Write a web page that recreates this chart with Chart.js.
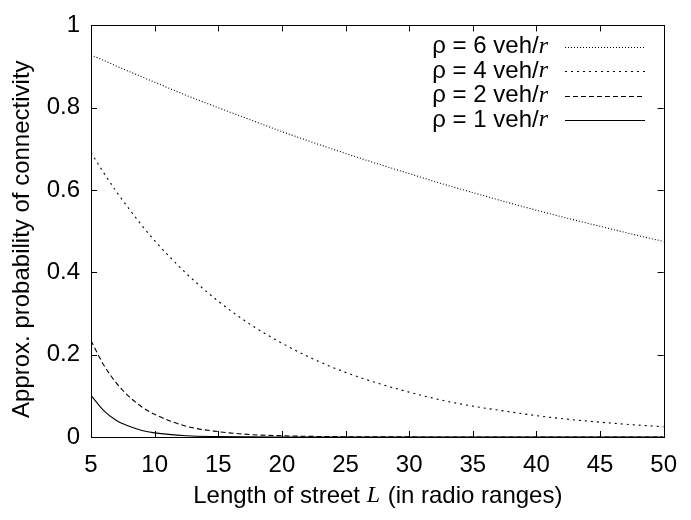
<!DOCTYPE html>
<html>
<head>
<meta charset="utf-8">
<script src="https://cdn.jsdelivr.net/npm/chart.js@4/dist/chart.umd.min.js"></script>
<style>
  body { margin: 0; background: #fff; }
  #wrap { width: 691px; height: 520px; }
</style>
</head>
<body>
<div id="wrap"><canvas id="myChart"></canvas></div>
<script>
// street length L (radio ranges)
var lengths = [5, 6, 7, 8, 9, 10, 12.5, 15, 17.5, 20, 22.5, 25, 27.5, 30, 32.5, 35, 37.5, 40, 42.5, 45, 47.5, 50];

// approx. probability of connectivity
var rho6 = [0.928, 0.915, 0.901, 0.888, 0.875, 0.862, 0.830, 0.800, 0.771, 0.742, 0.715, 0.689, 0.664, 0.640, 0.616, 0.594, 0.572, 0.551, 0.531, 0.512, 0.493, 0.475];
var rho4 = [0.691, 0.642, 0.596, 0.554, 0.514, 0.477, 0.397, 0.330, 0.274, 0.228, 0.189, 0.157, 0.131, 0.109, 0.090, 0.075, 0.063, 0.052, 0.043, 0.036, 0.030, 0.025];
var rho2 = [0.234, 0.175, 0.131, 0.098, 0.073, 0.055, 0.026, 0.013, 0.006, 0.003, 0.0014, 0.0007, 0.0003, 0.0002, 0.0001, 0, 0, 0, 0, 0, 0, 0];
var rho1 = [0.101, 0.064, 0.040, 0.026, 0.016, 0.010, 0.003, 0.001, 0.0003, 0.0001, 0, 0, 0, 0, 0, 0, 0, 0, 0, 0, 0, 0];

var seriesNames = ['6', '4', '2', '1'];
var xTicks = [5, 10, 15, 20, 25, 30, 35, 40, 45, 50];
var yTicks = [0, 0.2, 0.4, 0.6, 0.8, 1];

var SANS = '"Liberation Sans", Arial, sans-serif';
var SERIF = '"Liberation Serif", "Times New Roman", serif';
var FS = 24;

function pts(vals) {
  return lengths.map(function(l, i) { return {x: l, y: vals[i]}; });
}

function mkSet(name, vals, dash) {
  return {
    label: name,
    data: pts(vals),
    borderColor: '#000',
    borderWidth: 1.1,
    borderDash: dash,
    pointRadius: 0,
    fill: false,
    cubicInterpolationMode: 'monotone'
  };
}

// frame, inward ticks, axis titles and the gnuplot style key
var decor = {
  id: 'decor',
  afterDraw: function(chart) {
    var ctx = chart.ctx;
    var a = chart.chartArea;
    var xs = chart.scales.x, ys = chart.scales.y;
    ctx.save();
    ctx.strokeStyle = '#000';
    ctx.lineWidth = 1;
    ctx.setLineDash([]);
    ctx.strokeRect(Math.round(a.left) + 0.5, Math.round(a.top) + 0.5,
      Math.round(a.right - a.left), Math.round(a.bottom - a.top));
    var tl = 6;
    ctx.beginPath();
    xTicks.forEach(function(v) {
      var px = Math.round(xs.getPixelForValue(v)) + 0.5;
      ctx.moveTo(px, a.bottom); ctx.lineTo(px, a.bottom - tl);
      ctx.moveTo(px, a.top); ctx.lineTo(px, a.top + tl);
    });
    yTicks.forEach(function(v) {
      var py = Math.round(ys.getPixelForValue(v)) + 0.5;
      ctx.moveTo(a.left, py); ctx.lineTo(a.left + tl, py);
      ctx.moveTo(a.right, py); ctx.lineTo(a.right - tl, py);
    });
    ctx.stroke();

    ctx.fillStyle = '#000';
    ctx.textBaseline = 'middle';

    // x title with italic L
    var p1 = 'Length of street ', p2 = 'L', p3 = ' (in radio ranges)';
    ctx.font = FS + 'px ' + SANS;
    var w1 = ctx.measureText(p1).width, w3 = ctx.measureText(p3).width;
    ctx.font = 'italic ' + FS + 'px ' + SERIF;
    var w2 = ctx.measureText(p2).width;
    var cx = (a.left + a.right) / 2;
    var x0 = cx - (w1 + w2 + w3) / 2;
    var ty = 496;
    ctx.textAlign = 'left';
    ctx.font = FS + 'px ' + SANS;
    ctx.fillText(p1, x0, ty);
    ctx.font = 'italic ' + FS + 'px ' + SERIF;
    ctx.fillText(p2, x0 + w1, ty);
    ctx.font = FS + 'px ' + SANS;
    ctx.fillText(p3, x0 + w1 + w2 + 1, ty);

    // y title
    ctx.save();
    ctx.translate(22, (a.top + a.bottom) / 2 + 8);
    ctx.rotate(-Math.PI / 2);
    ctx.textAlign = 'center';
    ctx.font = FS + 'px ' + SANS;
    ctx.fillText('Approx. probability of connectivity', 0, 0);
    ctx.restore();

    // key
    var rowY = [46.5, 71, 95.5, 120];
    var textRight = 548, lineL = 565, lineR = 645;
    chart.data.datasets.forEach(function(ds, i) {
      var y = rowY[i];
      var s1 = '\u03c1 = ' + ds.label + ' veh/';
      ctx.font = 'italic ' + FS + 'px ' + SERIF;
      var wr = ctx.measureText('r').width;
      ctx.font = FS + 'px ' + SANS;
      var ws = ctx.measureText(s1).width;
      ctx.textAlign = 'left';
      ctx.fillText(s1, textRight - wr - ws, y);
      ctx.font = 'italic ' + FS + 'px ' + SERIF;
      ctx.fillText('r', textRight - wr, y);
      ctx.beginPath();
      ctx.setLineDash(ds.borderDash);
      ctx.lineWidth = ds.borderWidth;
      ctx.moveTo(lineL, Math.round(y) + 0.5);
      ctx.lineTo(lineR, Math.round(y) + 0.5);
      ctx.stroke();
    });
    ctx.restore();
  }
};

var ctx = document.getElementById('myChart');
var chart = new Chart(ctx, {
  type: 'line',
  data: {
    datasets: [
      mkSet(seriesNames[0], rho6, [1, 2]),
      mkSet(seriesNames[1], rho4, [2, 4]),
      mkSet(seriesNames[2], rho2, [5, 3]),
      mkSet(seriesNames[3], rho1, [])
    ]
  },
  plugins: [decor],
  options: {
    responsive: true,
    maintainAspectRatio: false,
    animation: false,
    layout: { padding: { left: 0, right: 3, top: 14, bottom: 0 } },
    plugins: {
      legend: { display: false },
      tooltip: { enabled: false }
    },
    scales: {
      x: {
        type: 'linear',
        min: 5, max: 50,
        afterFit: function(s) { s.height = 83; },
        afterBuildTicks: function(s) { s.ticks = xTicks.map(function(v) { return {value: v}; }); },
        grid: { display: false, drawTicks: false },
        border: { display: false },
        ticks: { color: '#000', padding: 14, font: { family: SANS, size: FS }, maxRotation: 0 }
      },
      y: {
        min: 0, max: 1,
        afterFit: function(s) { s.width = 91; },
        afterBuildTicks: function(s) { s.ticks = yTicks.map(function(v) { return {value: v}; }); },
        grid: { display: false, drawTicks: false },
        border: { display: false },
        ticks: {
          color: '#000', padding: 11, font: { family: SANS, size: FS },
          callback: function(v) { return String(+v.toFixed(1)); }
        }
      }
    }
  }
});
</script>
</body>
</html>
